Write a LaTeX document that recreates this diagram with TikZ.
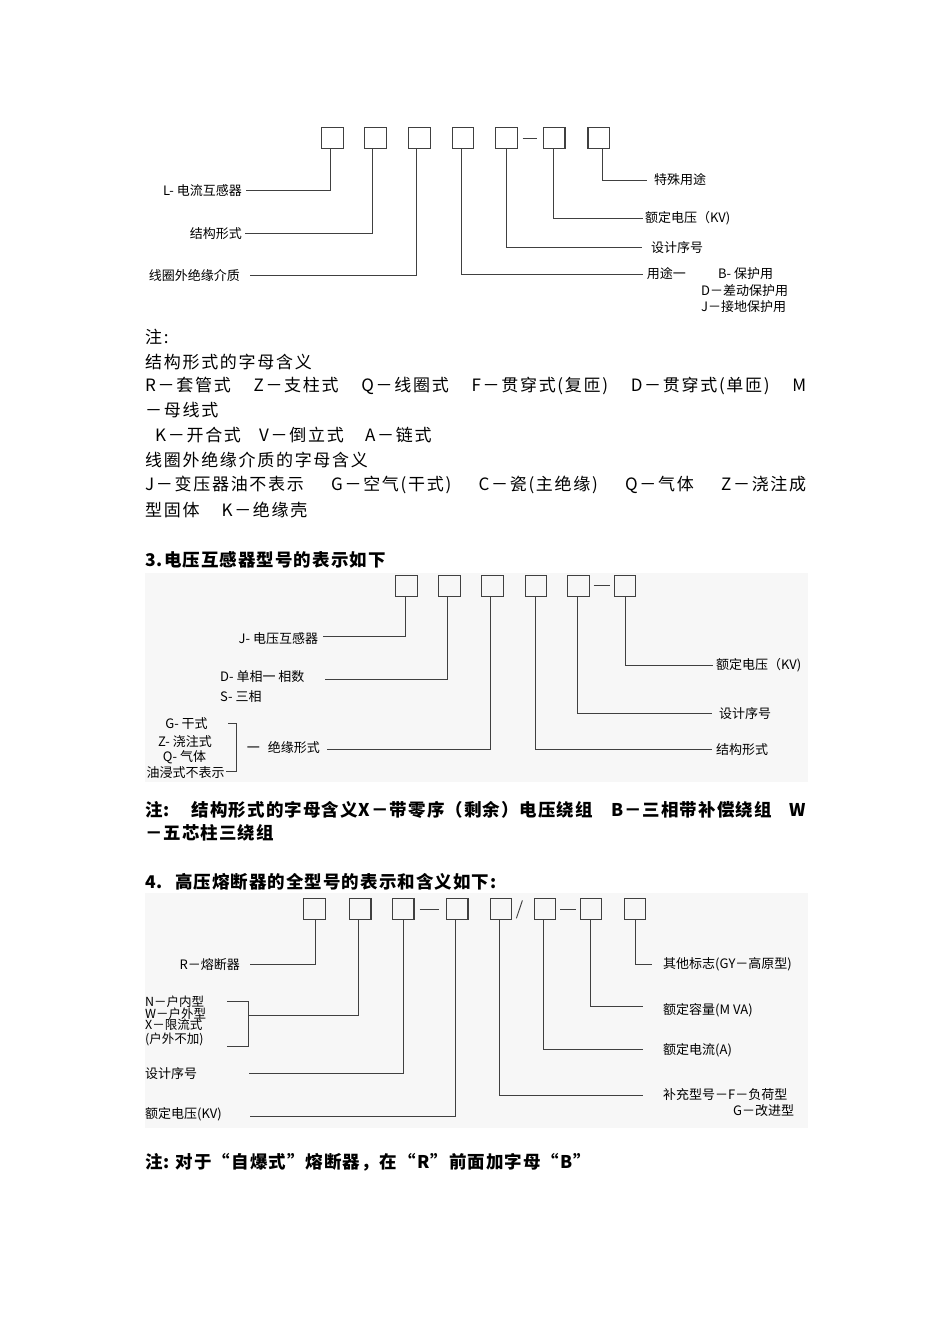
\documentclass[tikz,border=0pt]{standalone}
\usepackage{fontspec}
\setmainfont{Noto Sans CJK SC}
\newfontfamily\notefont{Noto Sans CJK SC}[LetterSpace=10]
\newfontfamily\headfont{Noto Sans CJK SC}[LetterSpace=6]
\tikzset{
  bx/.style={draw=black!75, line width=1.1pt, minimum width=21.5pt, minimum height=21.5pt, inner sep=0pt},
  ln/.style={draw=black!75, line width=1pt},
  lab/.style={inner sep=0pt, font=\fontsize{13}{14}\selectfont},
  slab/.style={inner sep=0pt, anchor=west, font=\fontsize{12.5}{13}\selectfont},
  note/.style={inner sep=0pt, anchor=west, font=\notefont\fontsize{17}{20}\selectfont},
  head/.style={inner sep=0pt, anchor=west, font=\headfont\bfseries\fontsize{17.5}{20}\selectfont},
  panel/.style={fill=black!3, draw=none},
}
\begin{document}
\begin{tikzpicture}[x=1pt,y=-1pt]
\useasboundingbox (0,0) rectangle (950,1344);
\fill[white] (0,0) rectangle (950,1344);
\fill[panel] (145,573) rectangle (808,782);
\fill[panel] (145,893) rectangle (808,1128);

% ---------------- Diagram 1 ----------------
\node[bx] (a1) at (332.5,138) {};
\node[bx] (a2) at (375.3,138) {};
\node[bx] (a3) at (419.5,138) {};
\node[bx] (a4) at (463,138) {};
\node[bx] (a5) at (506.3,138) {};
\node[bx] (a6) at (554.2,138) {};
\node[bx] (a7) at (598.7,138) {};
\draw[ln] ([xshift=5pt]a5.east) -- ([xshift=-6pt]a6.west);

\coordinate (e1) at (246,190);
\coordinate (e2) at (245,233.3);
\coordinate (e3) at (250,275.7);
\coordinate (e4) at (643,274);
\coordinate (e5) at (641.7,247.3);
\coordinate (e6) at (643,218.3);
\coordinate (e7) at (646.7,180);
\draw[ln] ([xshift=-2.5pt]a1.south) |- (e1);
\draw[ln] ([xshift=-2.6pt]a2.south) |- (e2);
\draw[ln] ([xshift=-3.5pt]a3.south) |- (e3);
\draw[ln] ([xshift=-1.3pt]a4.south) |- (e4);
\draw[ln] ([xshift=0.4pt]a5.south) |- (e5);
\draw[ln] ([xshift=-0.9pt]a6.south) |- (e6);
\draw[ln] ([xshift=3.6pt]a7.south) |- (e7);

\node[lab, anchor=east] (t1) at (242,190.5) {L- 电流互感器};
\node[lab, anchor=east] (t2) at (242,233.5) {结构形式};
\node[lab, anchor=east] (t3) at (240,275.5) {线圈外绝缘介质};
\node[lab, anchor=west] (t4) at (646.7,274) {用途一};
\node[lab, anchor=west] (t4b) at (718,274) {B- 保护用};
\node[lab, anchor=west] (t4c) at (701,290.7) {D－差动保护用};
\node[lab, anchor=west] (t4d) at (701,306.7) {J－接地保护用};
\node[lab, anchor=west] (t5) at (651,247.3) {设计序号};
\node[lab, anchor=west] (t6) at (645,218.3) {额定电压（KV)};
\node[lab, anchor=west] (t7) at (654,180) {特殊用途};

% ---------------- Notes ----------------
\node[note] (n1) at (145,337) {注:};
\node[note] (n2) at (145,362) {结构形式的字母含义};
\node[note] (n3) at (145,386) {\makebox[661pt][s]{R－套管式\hfill Z－支柱式\hfill Q－线圈式\hfill F－贯穿式(复匝)\hfill D－贯穿式(单匝)\hfill M}};
\node[note] (n4) at (145,410) {－母线式};
\node[note] (n5a) at (155,435) {K－开合式};
\node[note] (n5b) at (259,435) {V－倒立式};
\node[note] (n5c) at (365,435) {A－链式};
\node[note] (n6) at (145,460) {线圈外绝缘介质的字母含义};
\node[note] (n7) at (145,485) {\makebox[661pt][s]{J－变压器油不表示\hfill G－空气(干式)\hfill C－瓷(主绝缘)\hfill Q－气体\hfill Z－浇注成}};
\node[note] (n8) at (145,510) {型固体\hspace{22pt}K－绝缘壳};

% ---------------- Diagram 2 ----------------
\node[head] (h3) at (145,560) {3.电压互感器型号的表示如下};
\node[bx, minimum height=21pt] (c1) at (406.3,586) {};
\node[bx, minimum height=21pt] (c2) at (449.5,586) {};
\node[bx, minimum height=21pt] (c3) at (492.5,586) {};
\node[bx, minimum height=21pt] (c4) at (535.8,586) {};
\node[bx, minimum height=21pt] (c5) at (578.3,586) {};
\node[bx, minimum height=21pt] (c6) at (624.8,586) {};
\draw[ln] ([xshift=4pt,yshift=1pt]c5.east) -- ([xshift=-4pt,yshift=1pt]c6.west);

\coordinate (f1) at (323.3,636.7);
\coordinate (f2) at (325,679);
\coordinate (f3) at (326.7,749.3);
\coordinate (f4) at (711.7,749.3);
\coordinate (f5) at (711.7,713.3);
\coordinate (f6) at (712.7,665);
\draw[ln] ([xshift=-0.6pt]c1.south) |- (f1);
\draw[ln] ([xshift=-2.2pt]c2.south) |- (f2);
\draw[ln] ([xshift=-1.8pt]c3.south) |- (f3);
\draw[ln] ([xshift=-0.8pt]c4.south) |- (f4);
\draw[ln] ([xshift=-1pt]c5.south) |- (f5);
\draw[ln] ([xshift=0.2pt]c6.south) |- (f6);

\node[lab, anchor=east] (u1) at (318.3,639) {J- 电压互感器};
\node[lab, anchor=west] (u2) at (220,676.7) {D- 单相一 相数};
\node[lab, anchor=west] (u2b) at (220,696.7) {S- 三相};
\node[lab] (g1) at (186.5,724) {G- 干式};
\node[lab] (g2) at (185,741.7) {Z- 浇注式};
\node[lab] (g3) at (184.5,757.3) {Q- 气体};
\node[lab] (g4) at (185.5,772.3) {油浸式不表示};
\draw[ln] (228.3,723.3) -- (236.7,723.3) -- (236.7,771) -- (226,771);
\node[lab, anchor=west] (u3) at (246.7,747.7) {一\hspace{8pt}绝缘形式};
\node[lab, anchor=west] (u4) at (716,749.3) {结构形式};
\node[lab, anchor=west] (u5) at (719,713.3) {设计序号};
\node[lab, anchor=west] (u6) at (716,665) {额定电压（KV)};

% ---------------- Note 2 ----------------
\node[head] (h3n) at (145,810) {\makebox[661pt][s]{注:\hspace{22pt}结构形式的字母含义X－带零序（剩余）电压绕组\hfill B－三相带补偿绕组\hfill W}};
\node[head] (h3m) at (145,833) {－五芯柱三绕组};

% ---------------- Diagram 3 ----------------
\node[head] (h4) at (145,882) {4.\hspace{12pt}高压熔断器的全型号的表示和含义如下:};
\node[bx] (d1) at (314.5,909) {};
\node[bx] (d2) at (360.2,909) {};
\node[bx] (d3) at (403.2,909) {};
\node[bx] (d4) at (457.2,909) {};
\node[bx] (d5) at (500.8,909) {};
\node[bx] (d6) at (545,909) {};
\node[bx] (d7) at (590.8,909) {};
\node[bx] (d8) at (634.8,909) {};
\draw[ln] ([xshift=5pt]d3.east) -- ([xshift=-7pt]d4.west);
\draw[ln, line width=0.9pt] ([xshift=4.3pt,yshift=2pt]d5.south east) -- ([xshift=-11.3pt,yshift=-2.7pt]d6.north west);
\draw[ln] ([xshift=4pt]d6.east) -- ([xshift=-4pt]d7.west);

\coordinate (g1e) at (250,964);
\coordinate (g2e) at (248.3,1015.7);
\coordinate (g3e) at (249.3,1073.3);
\coordinate (g4e) at (250,1116);
\coordinate (g5e) at (642.7,1095);
\coordinate (g6e) at (642.7,1049.3);
\coordinate (g7e) at (642.7,1006.7);
\coordinate (g8e) at (651.7,964.3);
\draw[ln] ([xshift=0.5pt]d1.south) |- (g1e);
\draw[ln] ([xshift=-1.9pt]d2.south) |- (g2e);
\draw[ln] ([xshift=0.1pt]d3.south) |- (g3e);
\draw[ln] ([xshift=-2.2pt]d4.south) |- (g4e);
\draw[ln] ([xshift=-1.5pt]d5.south) |- (g5e);
\draw[ln] ([xshift=-1.7pt]d6.south) |- (g6e);
\draw[ln] ([xshift=-0.1pt]d7.south) |- (g7e);
\draw[ln] ([xshift=0.2pt]d8.south) |- (g8e);
\draw[ln] (227.3,1001) -- (248.3,1001) -- (248.3,1046.7) -- (227.3,1046.7);

\node[lab, anchor=east] (v1) at (240,965) {R－熔断器};
\node[slab] (w1) at (145,1001.7) {N－户内型};
\node[slab] (w2) at (145,1013.3) {W－户外型};
\node[slab] (w3) at (145,1025) {X－限流式};
\node[slab] (w4) at (145,1039) {(户外不加)};
\node[lab, anchor=west] (v3) at (145,1073.3) {设计序号};
\node[lab, anchor=west] (v4) at (145,1114.3) {额定电压(KV)};
\node[lab, anchor=west] (v8) at (663,964.3) {其他标志(GY－高原型)};
\node[lab, anchor=west] (v7) at (663,1010) {额定容量(M VA)};
\node[lab, anchor=west] (v6) at (663,1050) {额定电流(A)};
\node[lab, anchor=west] (v5) at (663,1095) {补充型号－F－负荷型};
\node[lab, anchor=west] (v5b) at (733,1111) {G－改进型};

\node[head] (h4n) at (145,1162) {注:\hspace{6pt}对于“自爆式”熔断器，在“R”前面加字母“B”};
\end{tikzpicture}
\end{document}
